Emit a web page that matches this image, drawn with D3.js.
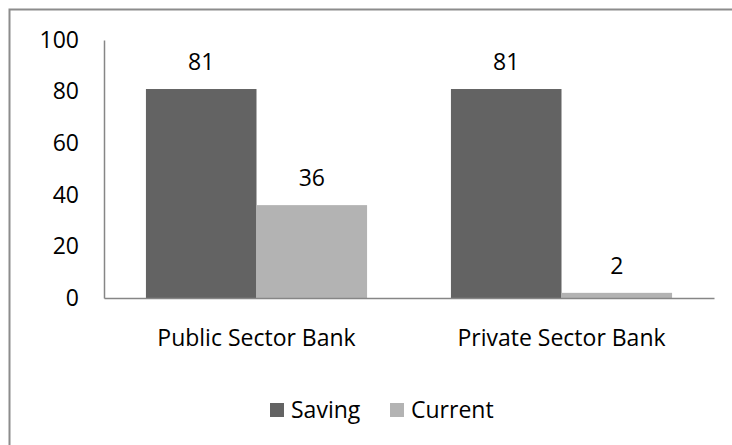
<!DOCTYPE html>
<html>
<head>
<meta charset="utf-8">
<script src="https://cdn.jsdelivr.net/npm/d3@7"></script>
<style>
  body { margin: 0; background: #fff; }
  svg { display: block; font-family: "Open Sans", sans-serif; }
</style>
</head>
<body>
<svg id="chart"></svg>
<script>
// chart data
const banks = ["Public Sector Bank", "Private Sector Bank"];
const seriesNames = ["Saving", "Current"];
const saving = [81, 81];
const current = [36, 2];
const yTicks = [0, 20, 40, 60, 80, 100];
const colors = ["#636363", "#b3b3b3"];

const width = 732;
const height = 445;
const margin = { top: 40, right: 18, bottom: 147, left: 104 };
const fontSize = 23;

const svg = d3.select("#chart")
  .attr("width", width)
  .attr("height", height);

// outer frame
svg.append("rect")
  .attr("x", 9.5)
  .attr("y", 9.5)
  .attr("width", 740)
  .attr("height", 460)
  .attr("fill", "none")
  .attr("stroke", "#8c8c8c")
  .attr("stroke-width", 2);

const x0 = d3.scaleBand()
  .domain(banks)
  .range([margin.left, width - margin.right])
  .paddingInner(0.275)
  .paddingOuter(0.1375);

const x1 = d3.scaleBand()
  .domain(seriesNames)
  .range([0, x0.bandwidth()]);

const y = d3.scaleLinear()
  .domain([0, 100])
  .range([height - margin.bottom, margin.top]);

const rows = banks.map((b, i) => ({
  bank: b,
  values: [
    { key: "Saving", value: saving[i] },
    { key: "Current", value: current[i] }
  ]
}));

// bars
const groups = svg.append("g")
  .selectAll("g")
  .data(rows)
  .join("g")
  .attr("transform", d => `translate(${x0(d.bank)},0)`);

groups.selectAll("rect")
  .data(d => d.values)
  .join("rect")
  .attr("x", d => x1(d.key))
  .attr("y", d => y(d.value))
  .attr("width", x1.bandwidth())
  .attr("height", d => y(0) - y(d.value))
  .attr("fill", (d, i) => colors[i]);

// value labels
groups.selectAll("text")
  .data(d => d.values)
  .join("text")
  .attr("x", d => x1(d.key) + x1.bandwidth() / 2)
  .attr("y", d => y(d.value) - 19)
  .attr("text-anchor", "middle")
  .attr("font-size", fontSize)
  .attr("fill", "#000")
  .text(d => d.value);

// y axis
const yAxis = svg.append("g")
  .attr("transform", `translate(${margin.left},0)`)
  .call(d3.axisLeft(y).tickValues(yTicks).tickSize(0).tickPadding(25));
yAxis.select(".domain").attr("stroke", "#868686").attr("stroke-width", 1.5);
yAxis.selectAll("text")
  .attr("font-size", fontSize)
  .attr("font-family", "Open Sans, sans-serif")
  .attr("fill", "#000");

// x axis
const xAxis = svg.append("g")
  .attr("transform", `translate(0,${y(0)})`)
  .call(d3.axisBottom(x0.copy().paddingInner(0).paddingOuter(0)).tickSize(0).tickPadding(32));
xAxis.select(".domain").attr("stroke", "#868686").attr("stroke-width", 1.5);
xAxis.selectAll("text")
  .attr("font-size", fontSize)
  .attr("font-family", "Open Sans, sans-serif")
  .attr("fill", "#000");

// legend
const legend = svg.append("g");
const legendX = [270, 390];
seriesNames.forEach((name, i) => {
  legend.append("rect")
    .attr("x", legendX[i])
    .attr("y", 403)
    .attr("width", 14)
    .attr("height", 14)
    .attr("fill", colors[i]);
  legend.append("text")
    .attr("x", legendX[i] + 21)
    .attr("y", 410)
    .attr("dy", "0.35em")
    .attr("font-size", fontSize)
    .attr("fill", "#000")
    .text(name);
});
</script>
</body>
</html>
